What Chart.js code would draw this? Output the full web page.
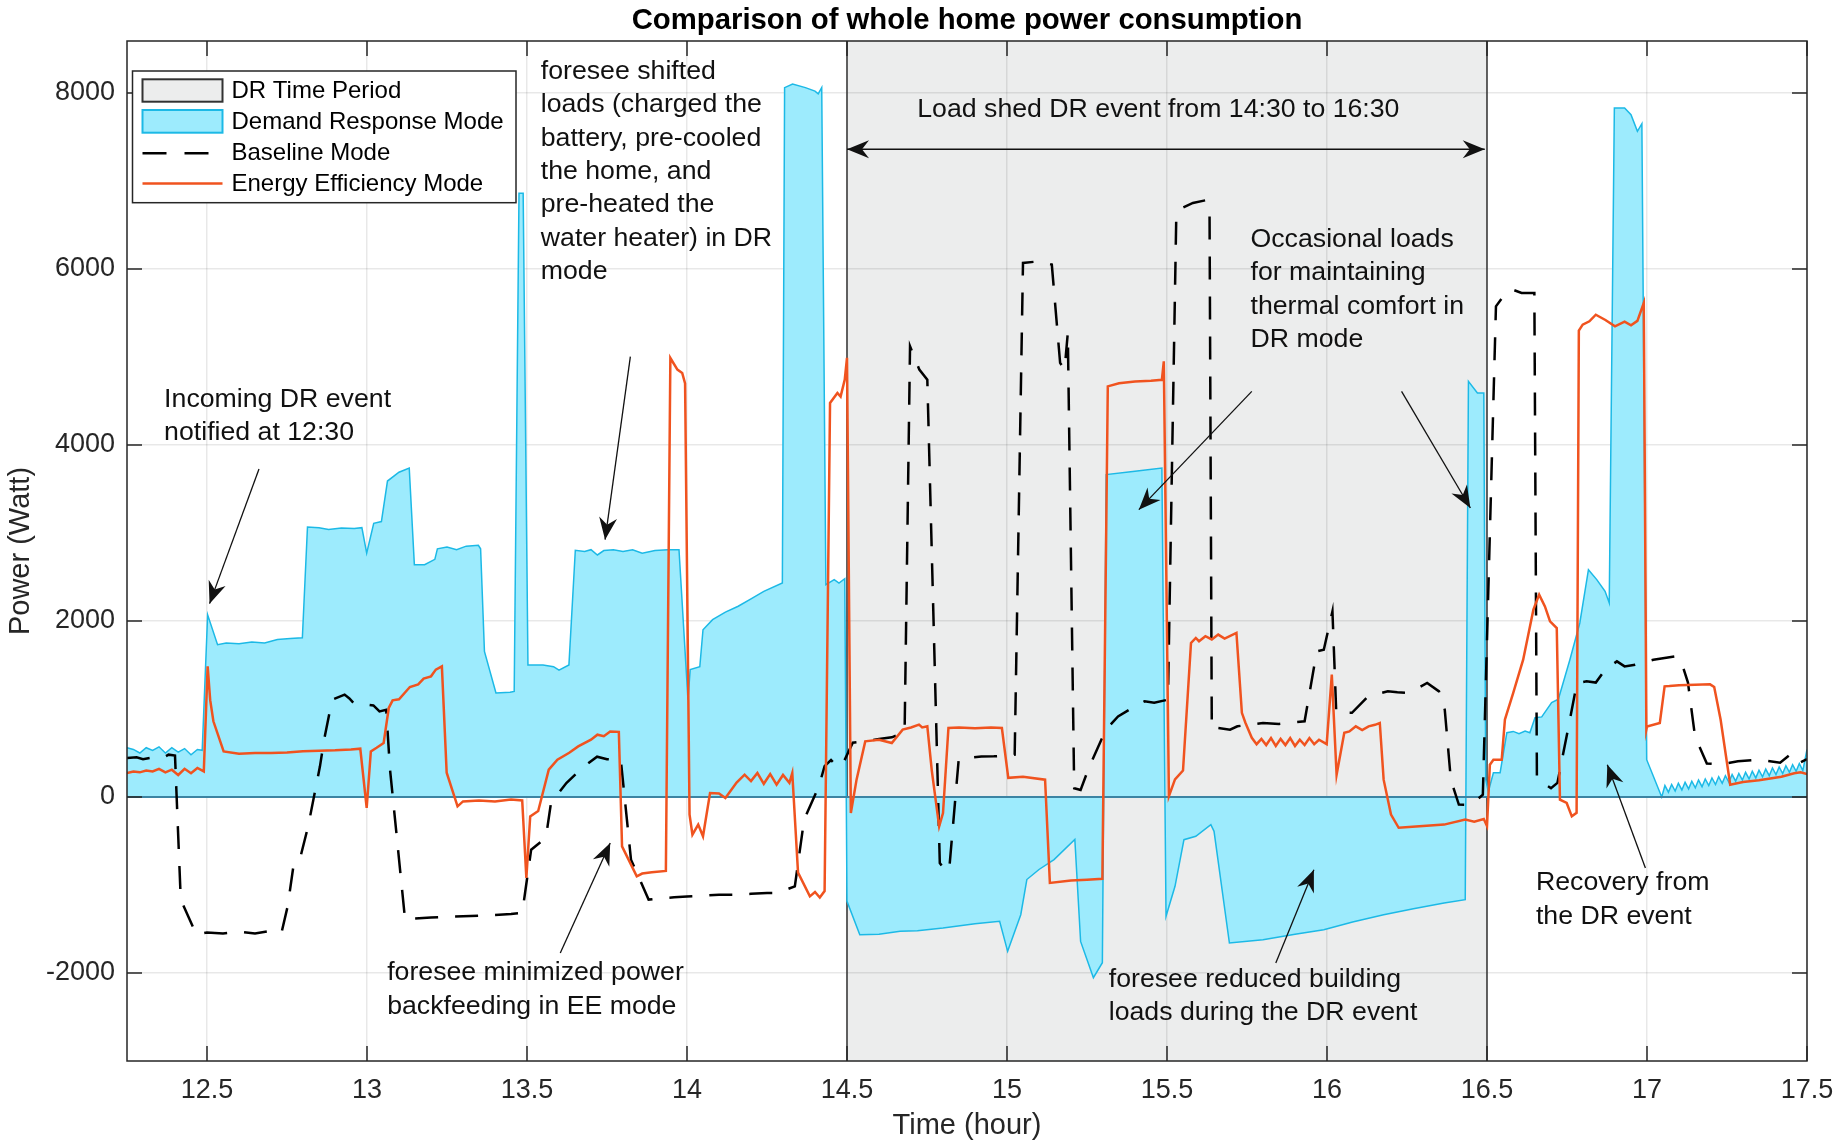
<!DOCTYPE html>
<html lang="en">
<head>
<meta charset="UTF-8">
<title>Comparison of whole home power consumption</title>
<script src="https://cdn.jsdelivr.net/npm/chart.js"></script>
<style>
  html, body { margin: 0; padding: 0; background: #fff; }
  #wrap { width: 1848px; height: 1143px; }
</style>
</head>
<body>
<div id="wrap"><canvas id="myChart" width="1848" height="1143"></canvas></div>
<script>
// hours on x, watts on y
const xTicks = [12.5, 13, 13.5, 14, 14.5, 15, 15.5, 16, 16.5, 17, 17.5];
const yTicks = [-2000, 0, 2000, 4000, 6000, 8000];
const drPeriod = [14.5, 16.5];

// Demand Response Mode
const drTime = [
  12.25, 12.27, 12.29, 12.31, 12.33, 12.35, 12.37, 12.39, 12.41, 12.43, 12.45, 12.47, 12.485,
  12.502, 12.533, 12.56, 12.6, 12.64, 12.68, 12.72, 12.76, 12.798,
  12.814, 12.85, 12.88, 12.92, 12.96, 12.984, 12.999, 13.021, 13.045,
  13.064, 13.1, 13.132, 13.148, 13.18, 13.212, 13.22, 13.25, 13.28, 13.31, 13.348, 13.355,
  13.367, 13.403, 13.447, 13.46, 13.475, 13.488, 13.503, 13.55, 13.583, 13.6, 13.631,
  13.651, 13.68, 13.7, 13.72, 13.74, 13.77, 13.8, 13.83, 13.86, 13.9, 13.94, 13.975,
  14.003, 14.01, 14.04, 14.05, 14.08, 14.12, 14.16, 14.2, 14.24, 14.298,
  14.305, 14.33, 14.37, 14.4, 14.41, 14.421, 14.434, 14.46, 14.475, 14.493,
  14.5, 14.54, 14.6, 14.666, 14.72, 14.8, 14.9, 14.977, 15.002, 15.043, 15.062, 15.1, 15.147, 15.212,
  15.23, 15.27, 15.298, 15.31, 15.4, 15.484, 15.497, 15.525, 15.553, 15.59, 15.637, 15.647, 15.695,
  15.8, 15.9, 15.99, 16.08, 16.177, 16.27, 16.366, 16.432, 16.442, 16.47, 16.49, 16.496,
  16.504, 16.52, 16.541, 16.562, 16.582, 16.6, 16.619, 16.634, 16.65, 16.671, 16.702, 16.723,
  16.759, 16.79, 16.817, 16.843, 16.869, 16.882,
  16.898, 16.93, 16.95, 16.97, 16.984, 16.999, 17.046,
  17.056, 17.067, 17.077, 17.088, 17.098, 17.109, 17.119, 17.130, 17.140, 17.151, 17.161, 17.172,
  17.182, 17.193, 17.203, 17.214, 17.224, 17.235, 17.245, 17.256, 17.266, 17.277, 17.287, 17.298,
  17.308, 17.319, 17.329, 17.340, 17.350, 17.361, 17.371, 17.382, 17.392, 17.403, 17.413, 17.424,
  17.434, 17.445, 17.455, 17.466, 17.476, 17.487, 17.5
];
const drPower = [
  560, 540, 500, 560, 530, 570, 500, 560, 510, 550, 480, 540, 530,
  2070, 1730, 1750, 1740, 1760, 1750, 1790, 1800, 1810,
  3068, 3060, 3040, 3055, 3050, 3060, 2770, 3110, 3130,
  3590, 3690, 3738, 2640, 2640, 2700, 2820, 2840, 2810, 2850, 2860, 2820,
  1655, 1182, 1190, 1200, 6860, 6860, 1500, 1500, 1480, 1440, 1500,
  2803, 2790, 2810, 2750, 2800, 2810, 2790, 2810, 2770, 2800, 2810, 2810,
  1106, 1447, 1480, 1900, 2015, 2100, 2167, 2250, 2337, 2432,
  8060, 8100, 8060, 8020, 7990, 8060, 2412, 2470, 2430, 2480,
  -1186, -1565, -1560, -1527, -1520, -1490, -1440, -1413, -1754, -1338, -938, -824, -711, -483,
  -1641, -2054, -1883, 3663, 3700, 3738, -1356, -1015, -485, -447, -314, -390, -1659,
  -1622, -1560, -1508, -1420, -1338, -1270, -1205, -1167, 4723, 4591, 4591, 200,
  60, 276, 276, 730, 745, 720, 750, 730, 900, 910, 1072, 1110,
  1560, 1977, 2583, 2470, 2337, 2205,
  7830, 7830, 7753, 7564, 7650, 424, 0,
  130, 55, 142, 67, 155, 80, 167, 92, 180, 105, 192, 117,
  205, 130, 217, 142, 230, 155, 242, 167, 255, 180, 267, 192,
  280, 205, 292, 217, 305, 230, 317, 242, 330, 255, 342, 267,
  355, 280, 367, 292, 380, 300, 540
];

// Baseline Mode
const baseTime = [
  12.25, 12.28, 12.3, 12.33, 12.36, 12.38, 12.40, 12.418, 12.467, 12.5, 12.55, 12.6,
  12.65, 12.7, 12.733, 12.752, 12.77, 12.79, 12.816, 12.853, 12.866, 12.891, 12.93, 12.945,
  12.96, 12.98, 13.02, 13.039, 13.06, 13.072, 13.119, 13.15, 13.2, 13.25, 13.3,
  13.35, 13.4, 13.45, 13.485, 13.494, 13.513, 13.559, 13.575, 13.623, 13.678, 13.719,
  13.75, 13.793, 13.825, 13.88, 13.92, 13.96, 14.0, 14.05, 14.1, 14.15, 14.2, 14.25,
  14.283, 14.337, 14.366, 14.412, 14.43, 14.45, 14.47, 14.49, 14.518, 14.557, 14.6, 14.64,
  14.68, 14.697, 14.726, 14.751, 14.79, 14.81, 14.82, 14.849, 14.87, 14.92, 14.959, 15.0,
  15.024, 15.05, 15.101, 15.14, 15.166, 15.18, 15.19, 15.21, 15.23, 15.256, 15.309, 15.347,
  15.40, 15.43, 15.46, 15.503, 15.529, 15.548, 15.581, 15.62, 15.633, 15.64, 15.66, 15.697,
  15.72, 15.758, 15.8, 15.85, 15.9, 15.93, 15.968, 15.99, 16.017, 16.029, 16.078, 16.128,
  16.19, 16.22, 16.251, 16.28, 16.313, 16.35, 16.368, 16.387, 16.412, 16.45, 16.487, 16.528,
  16.559, 16.58, 16.608, 16.648, 16.656, 16.7, 16.72, 16.757, 16.781, 16.811, 16.84, 16.87,
  16.906, 16.93, 16.963, 17.02, 17.0875, 17.105, 17.128, 17.15, 17.187, 17.228, 17.284, 17.35,
  17.416, 17.447, 17.472, 17.5
];
const basePower = [
  443, 450, 430, 450, 440, 481, 470, -1166, -1565, -1540, -1550, -1530,
  -1550, -1520, -1540, -1243, -788, -712, -334, 348, 651, 1106, 1163, 1120,
  1060, 1060, 1040, 973, 990, 310, -1394, -1380, -1370, -1360, -1356,
  -1350, -1340, -1330, -1318, -1088, -599, -463, -67, 159, 348, 458,
  430, 424, -712, -1166, -1150, -1140, -1130, -1120, -1110, -1110, -1100, -1090,
  -1090, -1015, -257, 121, 350, 420, 340, 400, 617, 632, 660, 678,
  735, 5121, 4856, 4742, -750, -850, -800, 424, 440, 460, 462, 470,
  481, 6068, 6087, 6050, 4932, 4856, 5273, 100, 80, 333, 765, 916,
  1030, 1087, 1070, 1106, 6598, 6693, 6750, 6780, 6600, 765, 784, 765,
  803, 822, 841, 830, 850, 860, 1655, 1674, 2110, 956, 956, 1143,
  1200, 1190, 1183, 1230, 1295, 1200, 992, 197, -87, -90, 26, 5575,
  5727, 5765, 5727, 5727, 200, 100, 160, 841, 1295, 1314, 1300, 1450,
  1541, 1484, 1503, 1560, 1598, 1560, 1300, 689, 380, 370, 405, 424,
  390, 480, 378, 430
];

// Energy Efficiency Mode
const eeTime = [
  12.25, 12.27, 12.29, 12.31, 12.33, 12.35, 12.37, 12.39, 12.41, 12.43, 12.45, 12.47, 12.49, 12.502,
  12.51, 12.52, 12.552, 12.6, 12.65, 12.7, 12.75, 12.8, 12.85, 12.9, 12.95, 12.979, 12.999,
  13.012, 13.03, 13.052, 13.068, 13.08, 13.1, 13.134, 13.16, 13.177, 13.2, 13.215, 13.234, 13.249,
  13.283, 13.3, 13.35, 13.4, 13.45, 13.485, 13.498, 13.51, 13.535,
  13.568, 13.595, 13.632, 13.66, 13.7, 13.72, 13.74, 13.76, 13.787,
  13.797, 13.843, 13.86, 13.89, 13.934, 13.948, 13.97, 13.985, 13.994,
  14.008, 14.017, 14.035, 14.05, 14.072, 14.1, 14.12, 14.155, 14.18, 14.2, 14.22, 14.24,
  14.26, 14.28, 14.3, 14.32, 14.329, 14.347, 14.384, 14.4, 14.415, 14.43, 14.447, 14.47,
  14.48, 14.493, 14.5, 14.512, 14.53, 14.557, 14.6, 14.64, 14.674, 14.7, 14.725,
  14.735, 14.751, 14.765, 14.788, 14.8, 14.817, 14.85, 14.9, 14.95, 14.984, 15.004, 15.05, 15.119,
  15.134, 15.2, 15.25, 15.298, 15.315, 15.35, 15.4, 15.45, 15.484, 15.49, 15.506,
  15.525, 15.55, 15.575, 15.59, 15.6, 15.62, 15.64, 15.66, 15.68, 15.717, 15.734,
  15.745, 15.765, 15.78, 15.795, 15.81, 15.825, 15.84, 15.855, 15.87, 15.885, 15.9, 15.915, 15.93, 15.945, 15.96, 15.975,
  15.999, 16.015, 16.03, 16.054, 16.07, 16.09, 16.11, 16.13, 16.15, 16.165, 16.177, 16.2,
  16.224, 16.3, 16.366, 16.432, 16.46, 16.49, 16.5, 16.509, 16.52, 16.546, 16.556, 16.582,
  16.613, 16.645, 16.663, 16.681, 16.697, 16.718, 16.728, 16.749, 16.765, 16.78, 16.787,
  16.799, 16.82, 16.84, 16.87, 16.9, 16.93, 16.95, 16.97, 16.99, 16.998, 17.0,
  17.04, 17.055, 17.07, 17.1, 17.15, 17.197, 17.21, 17.23, 17.26, 17.3, 17.35, 17.42, 17.46, 17.48,
  17.5
];
const eePower = [
  272, 290, 280, 300, 290, 320, 280, 310, 250, 320, 270, 330, 290, 1484,
  1100, 860, 518, 490, 500, 500, 505, 520, 525, 530, 540, 549, -125,
  518, 560, 614, 1011, 1098, 1110, 1250, 1280, 1345, 1371, 1447, 1484, 276,
  -106, -50, -40, -50, -30, -40, -921, -220, -160,
  310, 424, 503, 575, 651, 708, 690, 745, 740,
  -561, -902, -870, -856, -840, 4988, 4856, 4818, 4700,
  -200, -428, -314, -447, 45, 40, -12, 163, 253, 180, 272, 150,
  260, 140, 250, 160, 272, -860, -1129, -1080, -1143, -1068, 4477, 4591,
  4550, 4742, 4990, -182, 200, 632, 650, 613, 765, 790, 822,
  790, 803, 300, -334, -182, 784, 790, 780, 790, 784, 218, 230, 197,
  -977, -950, -940, -930, 4666, 4700, 4720, 4730, 4740, 4950, 10,
  200, 300, 1750, 1807, 1770, 1827, 1790, 1845, 1800, 1865, 956,
  843, 673, 600, 660, 590, 670, 580, 660, 590, 670, 580, 650, 590, 670, 600, 650,
  600, 1390, 253, 730, 745, 803, 760, 803, 820, 841, 197, -200,
  -350, -330, -314, -257, -280, -250, -330, 367, 424, 424, 880, 1183,
  1560, 2128, 2299, 2166, 1996, 1920, -30, -68, -220, -180, 5300,
  5367, 5405, 5480, 5420, 5348, 5400, 5360, 5410, 5614, 765, 800,
  840, 1257, 1260, 1270, 1275, 1280, 1250, 880, 140, 170, 190, 230, 270, 280,
  260
];

// text notes: x in hours, y of first line in watts
const notes = [
  { x: 12.366, y: 4515, lines: ['Incoming DR event', 'notified at 12:30'] },
  { x: 13.543, y: 8245, lines: ['foresee shifted', 'loads (charged the', 'battery, pre-cooled', 'the home, and', 'pre-heated the', 'water heater) in DR', 'mode'] },
  { x: 15.473, y: 7810, lines: ['Load shed DR event from 14:30 to 16:30'], align: 'center' },
  { x: 15.761, y: 6333, lines: ['Occasional loads', 'for maintaining', 'thermal comfort in', 'DR mode'] },
  { x: 13.063, y: -2000, lines: ['foresee minimized power', 'backfeeding in EE mode'] },
  { x: 15.318, y: -2076, lines: ['foresee reduced building', 'loads during the DR event'] },
  { x: 16.653, y: -977, lines: ['Recovery from', 'the DR event'] }
];
const arrows = [
  { from: [12.6625, 3727], to: [12.508, 2197] },
  { from: [13.823, 5003], to: [13.744, 2924] },
  { from: [14.5, 7360], to: [16.493, 7360], both: true },
  { from: [15.765, 4609], to: [15.412, 3265] },
  { from: [16.233, 4609], to: [16.448, 3284] },
  { from: [13.604, -1773], to: [13.76, -523] },
  { from: [15.84, -1886], to: [15.959, -826] },
  { from: [16.995, -807], to: [16.876, 367] }
];

const FONT = "'Liberation Sans', Arial, Helvetica, sans-serif";
const INK = '#262626';
const GRAY_PATCH = '#ECEDED';
const CYAN_FILL = '#9DEBFD';
const CYAN_EDGE = '#1CB9E6';
const ORANGE = '#F0531F';

function toPoints(t, p) {
  return t.map((x, i) => ({ x: x, y: p[i] }));
}

function arrowHead(ctx, fx, fy, tx, ty) {
  const L = 22, W = 9, N = 7;
  const len = Math.hypot(tx - fx, ty - fy);
  const ux = (tx - fx) / len, uy = (ty - fy) / len;
  const nx = -uy, ny = ux;
  ctx.beginPath();
  ctx.moveTo(tx, ty);
  ctx.lineTo(tx - L * ux + W * nx, ty - L * uy + W * ny);
  ctx.lineTo(tx - (L - N) * ux, ty - (L - N) * uy);
  ctx.lineTo(tx - L * ux - W * nx, ty - L * uy - W * ny);
  ctx.closePath();
  ctx.fill();
}

const decor = {
  id: 'decor',
  beforeDraw(chart) {
    const { ctx, chartArea: a, scales: { x } } = chart;
    ctx.save();
    ctx.fillStyle = '#fff';
    ctx.fillRect(0, 0, chart.width, chart.height);
    const x0 = x.getPixelForValue(drPeriod[0]);
    const x1 = x.getPixelForValue(drPeriod[1]);
    ctx.fillStyle = GRAY_PATCH;
    ctx.fillRect(x0, a.top, x1 - x0, a.bottom - a.top);
    ctx.restore();
  },
  beforeDatasetsDraw(chart) {
    const { ctx, chartArea: a, scales: { x } } = chart;
    ctx.save();
    ctx.strokeStyle = '#333';
    ctx.lineWidth = 1.5;
    drPeriod.forEach(v => {
      const px = x.getPixelForValue(v);
      ctx.beginPath();
      ctx.moveTo(px, a.top);
      ctx.lineTo(px, a.bottom);
      ctx.stroke();
    });
    ctx.restore();
  },
  afterDatasetDraw(chart, args) {
    if (chart.data.datasets[args.index].label !== 'Demand Response Mode') return;
    const { ctx, chartArea: a, scales: { y } } = chart;
    const py = y.getPixelForValue(0);
    ctx.save();
    ctx.strokeStyle = '#3C84A3';
    ctx.lineWidth = 1.8;
    ctx.beginPath();
    ctx.moveTo(a.left, py);
    ctx.lineTo(a.right, py);
    ctx.stroke();
    ctx.restore();
  },
  afterDraw(chart) {
    const { ctx, chartArea: a, scales: { x, y } } = chart;
    ctx.save();

    // axes box and inward ticks
    ctx.strokeStyle = INK;
    ctx.lineWidth = 1.5;
    ctx.strokeRect(a.left, a.top, a.right - a.left, a.bottom - a.top);
    const tl = 15;
    ctx.beginPath();
    xTicks.forEach(v => {
      const px = x.getPixelForValue(v);
      ctx.moveTo(px, a.bottom); ctx.lineTo(px, a.bottom - tl);
      ctx.moveTo(px, a.top); ctx.lineTo(px, a.top + tl);
    });
    yTicks.forEach(v => {
      const py = y.getPixelForValue(v);
      ctx.moveTo(a.left, py); ctx.lineTo(a.left + tl, py);
      ctx.moveTo(a.right, py); ctx.lineTo(a.right - tl, py);
    });
    ctx.stroke();

    // title
    ctx.fillStyle = '#000';
    ctx.font = 'bold 29.3px ' + FONT;
    ctx.textAlign = 'center';
    ctx.textBaseline = 'middle';
    ctx.fillText('Comparison of whole home power consumption', (a.left + a.right) / 2, 21);

    // annotations
    ctx.fillStyle = '#111';
    ctx.font = '26.7px ' + FONT;
    notes.forEach(n => {
      ctx.textAlign = n.align || 'left';
      const px = x.getPixelForValue(n.x);
      const py = y.getPixelForValue(n.y);
      n.lines.forEach((s, i) => ctx.fillText(s, px, py + i * 33.4));
    });
    ctx.strokeStyle = '#111';
    ctx.lineWidth = 1.3;
    arrows.forEach(r => {
      const fx = x.getPixelForValue(r.from[0]), fy = y.getPixelForValue(r.from[1]);
      const tx = x.getPixelForValue(r.to[0]), ty = y.getPixelForValue(r.to[1]);
      ctx.beginPath();
      ctx.moveTo(fx, fy);
      ctx.lineTo(tx, ty);
      ctx.stroke();
      arrowHead(ctx, fx, fy, tx, ty);
      if (r.both) arrowHead(ctx, tx, ty, fx, fy);
    });

    // legend
    const lx = a.left + 5.5, ly = a.top + 30;
    ctx.fillStyle = '#fff';
    ctx.fillRect(lx, ly, 383.5, 131.7);
    ctx.strokeStyle = INK;
    ctx.lineWidth = 1.5;
    ctx.strokeRect(lx, ly, 383.5, 131.7);
    const sx = lx + 10, sw = 80;
    ctx.fillStyle = GRAY_PATCH;
    ctx.fillRect(sx, ly + 8.3, sw, 22.4);
    ctx.strokeStyle = '#333';
    ctx.lineWidth = 2;
    ctx.strokeRect(sx, ly + 8.3, sw, 22.4);
    ctx.fillStyle = CYAN_FILL;
    ctx.fillRect(sx, ly + 39, sw, 22.7);
    ctx.strokeStyle = CYAN_EDGE;
    ctx.strokeRect(sx, ly + 39, sw, 22.7);
    ctx.strokeStyle = '#000';
    ctx.lineWidth = 2.5;
    ctx.setLineDash([24, 18]);
    ctx.beginPath();
    ctx.moveTo(sx, ly + 82.3); ctx.lineTo(sx + sw, ly + 82.3);
    ctx.stroke();
    ctx.setLineDash([]);
    ctx.strokeStyle = ORANGE;
    ctx.beginPath();
    ctx.moveTo(sx, ly + 112.5); ctx.lineTo(sx + sw, ly + 112.5);
    ctx.stroke();
    ctx.fillStyle = '#000';
    ctx.font = '24px ' + FONT;
    ctx.textAlign = 'left';
    ['DR Time Period', 'Demand Response Mode', 'Baseline Mode', 'Energy Efficiency Mode'].forEach((s, i) => {
      ctx.fillText(s, lx + 99, ly + 20.7 + i * 30.8);
    });
    ctx.restore();
  }
};

const ctx = document.getElementById('myChart').getContext('2d');
const myChart = new Chart(ctx, {
  type: 'line',
  data: {
    datasets: [
      {
        label: 'Energy Efficiency Mode',
        data: toPoints(eeTime, eePower),
        borderColor: ORANGE,
        borderWidth: 2.5,
        pointRadius: 0,
        fill: false,
        order: 1
      },
      {
        label: 'Baseline Mode',
        data: toPoints(baseTime, basePower),
        borderColor: '#000',
        borderWidth: 2.5,
        borderDash: [23, 17],
        pointRadius: 0,
        fill: false,
        order: 2
      },
      {
        label: 'Demand Response Mode',
        data: toPoints(drTime, drPower),
        borderColor: CYAN_EDGE,
        backgroundColor: CYAN_FILL,
        borderWidth: 1.5,
        pointRadius: 0,
        fill: 'origin',
        order: 3
      }
    ]
  },
  options: {
    responsive: false,
    animation: false,
    events: [],
    layout: { padding: { left: 0, right: 41, top: 41, bottom: 0 } },
    plugins: {
      legend: { display: false },
      title: { display: false },
      tooltip: { enabled: false }
    },
    elements: { line: { tension: 0 } },
    scales: {
      x: {
        type: 'linear',
        min: 12.25,
        max: 17.5,
        afterBuildTicks: s => { s.ticks = xTicks.map(v => ({ value: v })); },
        afterFit: s => { s.height = 82; },
        border: { display: false },
        grid: { color: 'rgba(0,0,0,0.09)', lineWidth: 1.5, drawTicks: false },
        ticks: {
          padding: 13,
          color: INK,
          font: { family: FONT, size: 27 },
          maxRotation: 0,
          autoSkip: false,
          callback: v => String(v)
        },
        title: {
          display: true,
          text: 'Time (hour)',
          color: INK,
          font: { family: FONT, size: 29 },
          padding: { top: 0, bottom: 0 }
        }
      },
      y: {
        type: 'linear',
        min: -3000,
        max: 8590,
        afterBuildTicks: s => { s.ticks = yTicks.map(v => ({ value: v })); },
        afterFit: s => { s.width = 127; },
        border: { display: false },
        grid: { color: 'rgba(0,0,0,0.09)', lineWidth: 1.5, drawTicks: false },
        ticks: {
          padding: 12,
          color: INK,
          font: { family: FONT, size: 27 },
          callback: v => String(v)
        },
        title: {
          display: true,
          text: 'Power (Watt)',
          color: INK,
          font: { family: FONT, size: 29 },
          padding: { top: 4, bottom: 0 }
        }
      }
    }
  },
  plugins: [decor]
});
</script>
</body>
</html>
